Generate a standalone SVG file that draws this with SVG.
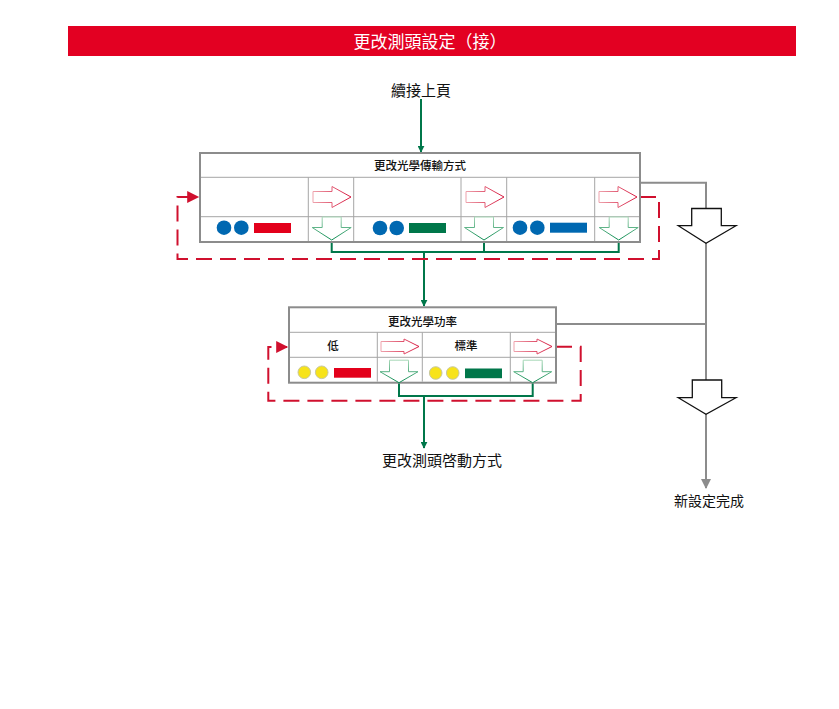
<svg xmlns="http://www.w3.org/2000/svg" width="839" height="709" viewBox="0 0 839 709">
<style>
text{font-family:"Noto Sans CJK TC","Noto Sans CJK SC","Liberation Sans",sans-serif;fill:#111}
.box{fill:#fff;stroke:#8c8c8c;stroke-width:2}
.grid{stroke:#a6a6a6;stroke-width:1;fill:none}
.gl{stroke:#00774a;stroke-width:2;fill:none}
.gray{stroke:#8c8c8c;stroke-width:2;fill:none}
.dash{stroke:#d0102e;stroke-width:2;fill:none;stroke-dasharray:16 8}
.ra{fill:#fff;stroke:url(#rg);stroke-width:1}
.ga{fill:#fff;stroke:url(#gg);stroke-width:1}
.big{fill:#fff;stroke:#111;stroke-width:1.3}
.blue{fill:#0068b1}
.yel{fill:#f7e31a;stroke:#c8c8a0;stroke-width:1}
.t12{font-size:11.5px;font-weight:500}
.t15{font-size:15px}
</style>
<defs>
<linearGradient id="rg" x1="0" y1="0" x2="1" y2="0"><stop offset="0" stop-color="#eea3ad"/><stop offset="1" stop-color="#d6163d"/></linearGradient>
<linearGradient id="gg" x1="0" y1="0" x2="0" y2="1"><stop offset="0" stop-color="#a8d8b8"/><stop offset="1" stop-color="#0a8a50"/></linearGradient>
<marker id="mg" viewBox="0 0 10 10" refX="9" refY="5" markerWidth="7" markerHeight="7" markerUnits="userSpaceOnUse" orient="auto"><path d="M0,0 L10,5 L0,10 Z" fill="#00774a"/></marker>
<marker id="mr" viewBox="0 0 10 10" refX="9" refY="5" markerWidth="13" markerHeight="12" markerUnits="userSpaceOnUse" orient="auto"><path d="M0,0 L10,5 L0,10 Z" fill="#d0102e"/></marker>
<marker id="mgr" viewBox="0 0 10 10" refX="9" refY="5" markerWidth="10" markerHeight="12" markerUnits="userSpaceOnUse" orient="auto"><path d="M0,0 L10,5 L0,10 Z" fill="#8c8c8c"/></marker>
<path id="rA" d="M0,-5.5 H19 V-10.5 L38,0 L19,10.5 V5.5 H0 Z"/>
<path id="rB" d="M0,-5 H23 V-7.5 L38,0 L23,7.5 V5 H0 Z"/>
<path id="gA" d="M-9.5,-23 V-12.5 H-19.5 L0,0 L19.5,-12.5 H9.5 V-23 Z"/>
<path id="gB" d="M-9.5,-22.5 V-11 H-19 L0,0 L19,-11 H9.5 V-22.5 Z"/>
</defs>

<g id="header">
<rect x="68" y="26" width="728" height="30" fill="#e30022"/>
<text x="430" y="47.5" text-anchor="middle" style="font-size:17px;fill:#fff">更改測頭設定（接）</text>
</g>

<g id="connectors">
<line class="gl" x1="421" y1="99" x2="421" y2="152" marker-end="url(#mg)"/>
<path class="gl" d="M331.7,240 V252 H618.7 V240 M484,240 V252"/>
<line class="gl" x1="424" y1="252" x2="424" y2="306" marker-end="url(#mg)"/>
<path class="gl" d="M399,382.7 V396 H532.7 V382.7"/>
<line class="gl" x1="424" y1="396" x2="424" y2="448" marker-end="url(#mg)"/>
<path class="dash" d="M640,197 H659 V259 H177.5 V197 H198" marker-end="url(#mr)"/>
<path class="dash" d="M556,346.7 H580.7 V400.7 H268.3 V347 H287" marker-end="url(#mr)"/>
<path class="gray" d="M640,182.7 H706 V209"/>
<path class="gray" d="M706,243 V380"/>
<path class="gray" d="M556,324 H706"/>
<line class="gray" x1="706" y1="414" x2="706" y2="488" marker-end="url(#mgr)"/>
</g>

<g id="bigArrow1">
<path class="big" d="M691.7,208.5 H721.3 V225.7 H736 L706,243.3 L678.3,225.7 H691.7 Z"/>
</g>
<g id="bigArrow2">
<path class="big" d="M692.3,380 H721.7 V397.7 H736 L706,414.3 L678.3,397.7 H692.3 Z"/>
</g>

<g id="startText">
<text class="t15" x="421" y="96" text-anchor="middle">續接上頁</text>
</g>

<g id="box1">
<rect class="box" x="200" y="153" width="440" height="89"/>
<path class="grid" d="M201,177.3 H639 M201,216.7 H639 M308.3,177.3 V241 M353.7,177.3 V241 M461,177.3 V241 M506.7,177.3 V241 M594.7,177.3 V241"/>
<text class="t12" x="420" y="170" text-anchor="middle">更改光學傳輸方式</text>
<use href="#rA" class="ra" x="313" y="197"/>
<use href="#rA" class="ra" x="466" y="197"/>
<use href="#rA" class="ra" x="599" y="197"/>
<use href="#gA" class="ga" x="331.7" y="240"/>
<use href="#gA" class="ga" x="484" y="240"/>
<use href="#gA" class="ga" x="618.7" y="240"/>
<circle class="blue" cx="224" cy="227.7" r="7.3"/>
<circle class="blue" cx="241.3" cy="227.7" r="7.3"/>
<rect x="254" y="223" width="37" height="10" fill="#e3001b"/>
<circle class="blue" cx="380" cy="228" r="7.3"/>
<circle class="blue" cx="396.7" cy="228" r="7.3"/>
<rect x="409" y="223" width="37" height="10" fill="#00774a"/>
<circle class="blue" cx="520" cy="227.7" r="7.3"/>
<circle class="blue" cx="537.3" cy="227.7" r="7.3"/>
<rect x="550" y="222.7" width="37" height="10" fill="#0068b1"/>
</g>

<g id="box2">
<rect class="box" x="289" y="307.3" width="267" height="75.4"/>
<path class="grid" d="M290,332.3 H555 M290,357.3 H555 M377.3,332.3 V381.7 M422.3,332.3 V381.7 M510.3,332.3 V381.7"/>
<text class="t12" x="422.5" y="326" text-anchor="middle">更改光學功率</text>
<text class="t12" x="333" y="349.5" text-anchor="middle">低</text>
<text class="t12" x="466" y="349.5" text-anchor="middle">標準</text>
<use href="#rB" class="ra" x="381" y="346.5"/>
<use href="#rB" class="ra" x="514" y="346.5"/>
<use href="#gB" class="ga" x="399" y="382.7"/>
<use href="#gB" class="ga" x="532.7" y="382.7"/>
<circle class="yel" cx="304.3" cy="372.3" r="6.3"/>
<circle class="yel" cx="321.7" cy="372.3" r="6.3"/>
<rect x="334" y="368" width="37" height="9.7" fill="#e3001b"/>
<circle class="yel" cx="435.7" cy="373" r="6.3"/>
<circle class="yel" cx="452.7" cy="373" r="6.3"/>
<rect x="465" y="368.5" width="37" height="9.7" fill="#00774a"/>
</g>

<g id="endText">
<text class="t15" x="442" y="466" text-anchor="middle">更改測頭啓動方式</text>
</g>
<g id="doneText">
<text x="709" y="506" text-anchor="middle" style="font-size:14px">新設定完成</text>
</g>
</svg>
